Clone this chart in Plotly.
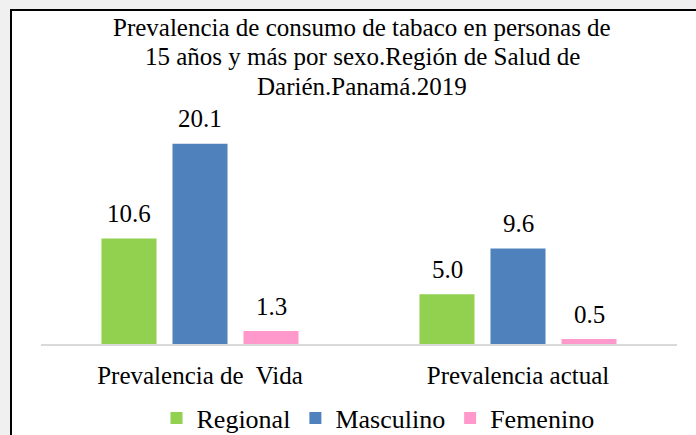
import plotly.graph_objects as go

categories = ["Prevalencia de  Vida", "Prevalencia actual"]
regional = [10.6, 5.0]
masculino = [20.1, 9.6]
femenino = [1.3, 0.5]
series_names = ["Regional", "Masculino", "Femenino"]
colors = ["#92d050", "#4f81bd", "#ff99cc"]
title_lines = ["Prevalencia de consumo de tabaco en personas de",
               "15 años y más por sexo.Región de Salud de",
               "Darién.Panamá.2019"]

FONT = "Liberation Serif"
W, H = 696, 435
ML, MR, MT, MB = 41, 19, 100, 91
pw = W - ML - MR
ph = H - MT - MB
BAR_PITCH = 71  # px between bar centres inside a group

def px_x(p):
    return (p - ML) / pw

def px_y(p):
    return (H - MB - p) / ph

fig = go.Figure()
annotations = []
all_series = [regional, masculino, femenino]
for k, (name, vals, col) in enumerate(zip(series_names, all_series, colors)):
    fig.add_trace(go.Bar(
        x=categories, y=vals, name=name, marker_color=col,
        marker_line_width=0, cliponaxis=False,
    ))
    for cat, v in zip(categories, vals):
        annotations.append(dict(
            x=cat, y=v, xref="x", yref="y", text=f"{v:.1f}",
            xshift=(k - 1) * BAR_PITCH, yshift=25,
            xanchor="center", yanchor="middle", showarrow=False,
            font=dict(family=FONT, size=25, color="#000000")))

for i, line in enumerate(title_lines):
    annotations.append(dict(
        text=line, xref="paper", yref="paper", x=px_x(362), y=px_y(28 + 29 * i),
        xanchor="center", yanchor="middle", showarrow=False,
        font=dict(family=FONT, size=25, color="#000000")))

fig.update_layout(
    width=W, height=H,
    margin=dict(l=ML, r=MR, t=MT, b=MB, autoexpand=False),
    paper_bgcolor="#f0f0f0",
    plot_bgcolor="rgba(0,0,0,0)",
    barmode="group", bargap=0.33, bargroupgap=0.225,
    font=dict(family=FONT, size=24, color="#000000"),
    annotations=annotations,
    showlegend=True,
    legend=dict(orientation="h", x=px_x(378), xanchor="center",
                y=1 - 418 / H, yanchor="middle", yref="container",
                font=dict(family=FONT, size=26, color="#000000"),
                bgcolor="rgba(0,0,0,0)", itemwidth=30, tracegroupgap=0),
    xaxis=dict(showline=True, linecolor="#d9d9d9", linewidth=2,
               ticks="", showgrid=False, automargin=False,
               tickfont=dict(family=FONT, size=25, color="#000000"),
               ticklabelstandoff=8),
    yaxis=dict(range=[0, 24.5], visible=False, showgrid=False, zeroline=False,
               automargin=False),
    shapes=[
        dict(type="rect", xref="paper", yref="paper",
             x0=px_x(11), x1=px_x(800), y0=px_y(520), y1=px_y(10),
             fillcolor="#ffffff", line=dict(width=0), layer="below"),
        dict(type="line", xref="paper", yref="paper",
             x0=px_x(11), x1=px_x(11), y0=px_y(520), y1=px_y(9),
             line=dict(color="#000000", width=2), layer="below"),
        dict(type="line", xref="paper", yref="paper",
             x0=px_x(10), x1=px_x(800), y0=px_y(10), y1=px_y(10),
             line=dict(color="#000000", width=2), layer="below"),
    ],
)

fig.write_html("out.html")
